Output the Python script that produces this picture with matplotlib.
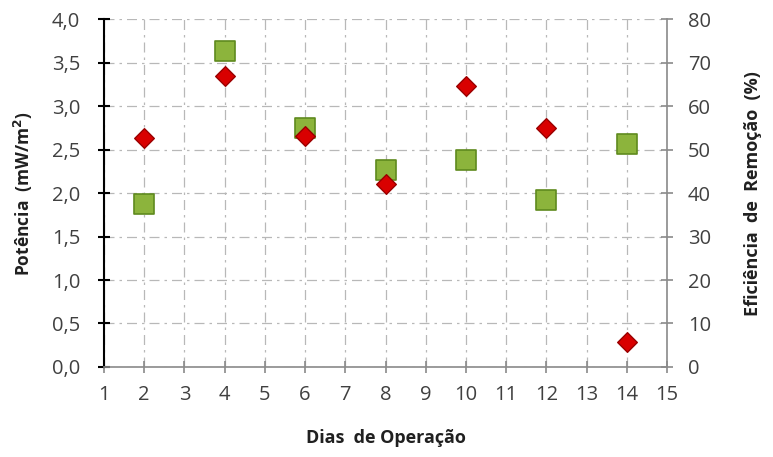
import matplotlib
matplotlib.use('Agg')
import matplotlib.pyplot as plt
import numpy as np

plt.rcParams['font.family'] = ['Open Sans', 'DejaVu Sans']

# Dias de operação
dias = [2, 4, 6, 8, 10, 12, 14]
# Potência (mW/m2) - losangos vermelhos, eixo esquerdo
potencia = [2.63, 3.35, 2.66, 2.11, 3.23, 2.75, 0.29]
# Eficiência de remoção (%) - quadrados verdes, eixo direito
eficiencia = [37.5, 72.7, 55.0, 45.4, 47.6, 38.4, 51.2]

x_ticks = list(range(1, 16))
y_left_ticks = [0.0, 0.5, 1.0, 1.5, 2.0, 2.5, 3.0, 3.5, 4.0]
y_left_labels = ['0,0', '0,5', '1,0', '1,5', '2,0', '2,5', '3,0', '3,5', '4,0']
y_right_ticks = [0, 10, 20, 30, 40, 50, 60, 70, 80]

tick_color = '#404040'
spine_gray = '#8a8a8a'

fig = plt.figure(figsize=(7.73, 4.57), dpi=100)
ax = fig.add_axes([0.1345, 0.197, 0.7285, 0.761])
ax2 = ax.twinx()

ax.set_xlim(1, 15)
ax.set_ylim(0, 4.0)
ax2.set_ylim(0, 80)

ax.set_xticks(x_ticks)
ax.set_yticks(y_left_ticks)
ax.set_yticklabels(y_left_labels)
ax2.set_yticks(y_right_ticks)

# grid on the lower axes so every marker sits on top of it
ax2.xaxis.set_visible(True)
ax2.tick_params(axis='x', length=0, labelbottom=False, labeltop=False)
ax2.grid(True, color='#b8b8b8', linestyle='-.', linewidth=0.9, dashes=(8, 4, 2, 4))
ax2.set_axisbelow(True)

for a in (ax, ax2):
    a.spines['top'].set_visible(False)
ax.spines['left'].set_color('black')
ax.spines['left'].set_linewidth(1.5)
ax.spines['bottom'].set_color(spine_gray)
ax.spines['bottom'].set_linewidth(1.2)
ax.spines['right'].set_visible(False)
ax2.spines['right'].set_color(spine_gray)
ax2.spines['right'].set_linewidth(1.2)
ax2.spines['left'].set_visible(False)
ax2.spines['bottom'].set_visible(False)

ax.tick_params(axis='y', direction='inout', length=8, width=1.5, color='black',
               labelsize=14.5, labelcolor=tick_color, pad=13)
ax.tick_params(axis='x', direction='inout', length=8, width=1.2, color=spine_gray,
               labelsize=14.5, labelcolor=tick_color, pad=9)
ax2.tick_params(axis='y', direction='inout', length=8, width=1.2, color=spine_gray,
                labelsize=14.5, labelcolor=tick_color, pad=11)

ax2.scatter(dias, eficiencia, marker='s', s=190, color='#8cb43c',
            edgecolor='#5f8a1e', linewidth=1.2, zorder=3, clip_on=False)
ax.scatter(dias, potencia, marker='D', s=100, color='#d90000',
           edgecolor='#9a0000', linewidth=1.0, zorder=4, clip_on=False)
ax.set_zorder(ax2.get_zorder() + 1)
ax.patch.set_visible(False)

ax.set_xlabel('Dias  de Operação', fontsize=13, fontweight='bold', color='#202020', labelpad=17)
ax.set_ylabel('Potência  (mW/m$^{\\mathbf{2}}$)', fontsize=12.5, fontweight='bold', color='#202020', labelpad=12)
ax2.set_ylabel('Eficiência  de  Remoção  (%)', fontsize=13, fontweight='bold', color='#202020', labelpad=24)

plt.savefig('out.png', dpi=100)
plt.close()
